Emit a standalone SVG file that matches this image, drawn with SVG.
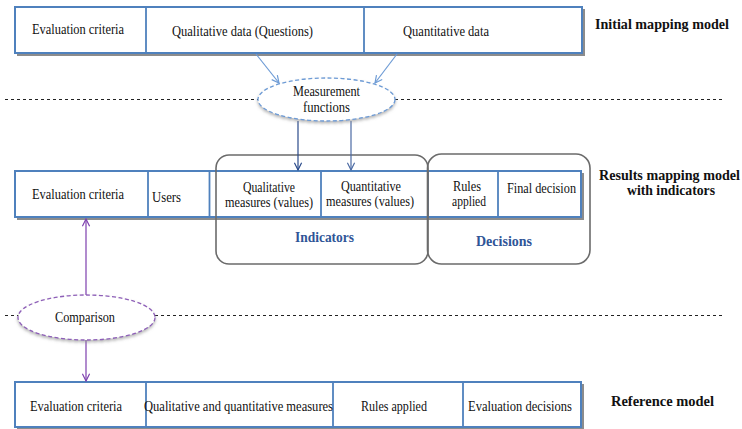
<svg xmlns="http://www.w3.org/2000/svg" width="742" height="429" viewBox="0 0 742 429">
<defs>
<style>
.t{font-family:"Liberation Serif","Times New Roman",serif;font-size:14px;fill:#111}
.b{font-family:"Liberation Serif","Times New Roman",serif;font-size:14px;font-weight:bold;fill:#111}
.ib{font-family:"Liberation Serif","Times New Roman",serif;font-size:15px;font-weight:bold;fill:#2f5597}
.box{fill:#fff;stroke:#4f81bd;stroke-width:2}
.sh{fill:#8c8c8c}
.div{stroke:#4f81bd;stroke-width:1.8}
.grp{fill:none;stroke:#6b6b6b;stroke-width:1.6}
.dash{stroke:#222;stroke-width:1;stroke-dasharray:3,3}
</style>
<marker id="ab" viewBox="0 0 10 10" refX="9" refY="5" markerWidth="9" markerHeight="9" orient="auto" markerUnits="userSpaceOnUse"><path d="M1,1 L9,5 L1,9" fill="none" stroke="#6d9bd5" stroke-width="1.3"/></marker>
<marker id="ad" viewBox="0 0 10 10" refX="9" refY="5" markerWidth="9" markerHeight="9" orient="auto" markerUnits="userSpaceOnUse"><path d="M1,1 L9,5 L1,9" fill="none" stroke="#2a4a8a" stroke-width="1.3"/></marker>
<marker id="ad2" viewBox="0 0 10 10" refX="9" refY="5" markerWidth="9" markerHeight="9" orient="auto" markerUnits="userSpaceOnUse"><path d="M1,1 L9,5 L1,9" fill="none" stroke="#4b6aa3" stroke-width="1.3"/></marker>
<marker id="ap" viewBox="0 0 10 10" refX="9" refY="5" markerWidth="9" markerHeight="9" orient="auto" markerUnits="userSpaceOnUse"><path d="M1,1 L9,5 L1,9" fill="none" stroke="#7d3fae" stroke-width="1.3"/></marker>
<filter id="es" x="-20%" y="-30%" width="140%" height="170%"><feDropShadow dx="0" dy="2" stdDeviation="1.5" flood-color="#888" flood-opacity="0.6"/></filter>
</defs>

<g id="separators">
<line class="dash" x1="5" y1="99.5" x2="722" y2="99.5"/>
<line class="dash" x1="5" y1="315.5" x2="722" y2="315.5"/>
</g>

<g id="initial-model">
<rect class="sh" x="17" y="9" width="568" height="47"/>
<rect class="box" x="15" y="7" width="567" height="46"/>
<line class="div" x1="146" y1="7" x2="146" y2="53"/>
<line class="div" x1="364" y1="7" x2="364" y2="53"/>
<text class="t" x="32" y="34" textLength="92" lengthAdjust="spacingAndGlyphs">Evaluation  criteria</text>
<text class="t" x="172" y="36" textLength="141" lengthAdjust="spacingAndGlyphs">Qualitative  data (Questions)</text>
<text class="t" x="403" y="36" textLength="86" lengthAdjust="spacingAndGlyphs">Quantitative  data</text>
<text class="b" x="595" y="29" textLength="134" lengthAdjust="spacingAndGlyphs">Initial  mapping  model</text>
</g>

<g id="results-model">
<rect class="sh" x="17" y="173" width="567" height="47"/>
<rect class="box" x="15" y="171" width="566" height="46"/>
<line class="div" x1="148" y1="171" x2="148" y2="217"/>
<line class="div" x1="209.5" y1="171" x2="209.5" y2="217"/>
<line class="div" x1="321" y1="171" x2="321" y2="217"/>
<line class="div" x1="428" y1="171" x2="428" y2="217"/>
<line class="div" x1="498" y1="171" x2="498" y2="217"/>
<text class="t" x="32" y="199" textLength="92" lengthAdjust="spacingAndGlyphs">Evaluation  criteria</text>
<text class="t" x="152" y="202" textLength="29" lengthAdjust="spacingAndGlyphs">Users</text>
<text class="t" x="243" y="192" textLength="52" lengthAdjust="spacingAndGlyphs">Qualitative</text>
<text class="t" x="225" y="207" textLength="88" lengthAdjust="spacingAndGlyphs">measures (values)</text>
<text class="t" x="341" y="191" textLength="60" lengthAdjust="spacingAndGlyphs">Quantitative</text>
<text class="t" x="326" y="206" textLength="88" lengthAdjust="spacingAndGlyphs">measures (values)</text>
<text class="t" x="453" y="191" textLength="28" lengthAdjust="spacingAndGlyphs">Rules</text>
<text class="t" x="452" y="206" textLength="34" lengthAdjust="spacingAndGlyphs">applied</text>
<text class="t" x="507" y="193" textLength="69" lengthAdjust="spacingAndGlyphs">Final decision</text>
<text class="b" x="599" y="180" textLength="141" lengthAdjust="spacingAndGlyphs">Results mapping  model</text>
<text class="b" x="627" y="195" textLength="88" lengthAdjust="spacingAndGlyphs">with  indicators</text>
</g>

<g id="indicators">
<rect class="grp" x="216" y="155" width="212" height="109" rx="13"/>
<text class="ib" x="295" y="242" textLength="59" lengthAdjust="spacingAndGlyphs">Indicators</text>
</g>

<g id="decisions">
<rect class="grp" x="427.5" y="154" width="162.5" height="110" rx="14"/>
<text class="ib" x="476" y="246" textLength="56" lengthAdjust="spacingAndGlyphs">Decisions</text>
</g>

<g id="reference-model">
<rect class="sh" x="17" y="384" width="567" height="45"/>
<rect class="box" x="15" y="382" width="566" height="45"/>
<line class="div" x1="146" y1="382" x2="146" y2="427"/>
<line class="div" x1="333" y1="382" x2="333" y2="427"/>
<line class="div" x1="463" y1="382" x2="463" y2="427"/>
<text class="t" x="30" y="411" textLength="92" lengthAdjust="spacingAndGlyphs">Evaluation  criteria</text>
<text class="t" x="144" y="411" textLength="189" lengthAdjust="spacingAndGlyphs">Qualitative  and quantitative  measures</text>
<text class="t" x="361" y="411" textLength="66" lengthAdjust="spacingAndGlyphs">Rules applied</text>
<text class="t" x="468" y="411" textLength="104" lengthAdjust="spacingAndGlyphs">Evaluation  decisions</text>
<text class="b" x="611" y="406" textLength="103" lengthAdjust="spacingAndGlyphs">Reference model</text>
</g>

<g id="connectors" fill="none" stroke-width="1.2">
<line x1="256" y1="54" x2="279" y2="83" stroke="#6d9bd5" marker-end="url(#ab)"/>
<line x1="397" y1="54" x2="375" y2="83" stroke="#6d9bd5" marker-end="url(#ab)"/>
<line x1="298" y1="121" x2="298" y2="170" stroke="#2a4a8a" marker-end="url(#ad)"/>
<line x1="351" y1="121" x2="351" y2="170" stroke="#4b6aa3" marker-end="url(#ad2)"/>
<line x1="86" y1="295" x2="86" y2="219" stroke="#7d3fae" marker-end="url(#ap)"/>
<line x1="86" y1="340" x2="86" y2="381" stroke="#7d3fae" marker-end="url(#ap)"/>
</g>

<g id="measurement-functions">
<ellipse cx="326.5" cy="99.5" rx="68.5" ry="21.5" fill="#fff" stroke="#6d9bd5" stroke-width="1.3" stroke-dasharray="4,2.5" filter="url(#es)"/>
<text class="t" x="293" y="96" textLength="67" lengthAdjust="spacingAndGlyphs">Measurement</text>
<text class="t" x="303" y="112" textLength="47" lengthAdjust="spacingAndGlyphs">functions</text>
</g>

<g id="comparison">
<ellipse cx="86.5" cy="317.5" rx="68.5" ry="22.5" fill="#fff" stroke="#8e5fb8" stroke-width="1.3" stroke-dasharray="4,2.5" filter="url(#es)"/>
<text class="t" x="55" y="322" textLength="60" lengthAdjust="spacingAndGlyphs">Comparison</text>
</g>
</svg>
